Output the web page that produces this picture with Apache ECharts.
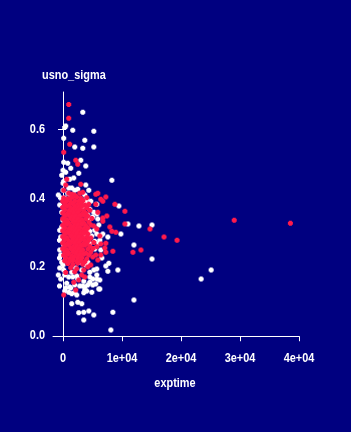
<!DOCTYPE html>
<html>
<head>
<meta charset="utf-8">
<script src="https://cdn.jsdelivr.net/npm/echarts@6/dist/echarts.min.js"></script>
<style>
  html, body { margin: 0; padding: 0; background: #000080; }
  #chart { width: 351px; height: 432px; }
</style>
</head>
<body>
<div id="chart"></div>
<script>
// exptime vs usno_sigma, two groups of stars
const whitePoints = [
  [3350, 0.650], [460, 0.610], [290, 0.606], [1650, 0.598], [5220, 0.595],
  [120, 0.575], [3690, 0.569], [1990, 0.549], [3350, 0.546], [5220, 0.549],
  [120, 0.505], [800, 0.502], [3010, 0.511], [3860, 0.494], [1310, 0.488],
  [0, 0.482], [2670, 0.473], [1820, 0.459], [1140, 0.456], [120, 0.450],
  [0, 0.444], [3860, 0.439], [970, 0.430], [1480, 0.430], [1990, 0.424],
  [2500, 0.427], [800, 0.415], [290, 0.401], [4030, 0.398], [3690, 0.410],
  [8280, 0.453], [9470, 0.378], [11000, 0.326], [12870, 0.320], [15080, 0.323],
  [6750, 0.297], [7600, 0.288], [9810, 0.297], [12020, 0.265], [15080, 0.224],
  [7770, 0.212], [7260, 0.204], [9300, 0.192], [7600, 0.189], [12020, 0.105],
  [8450, 0.070], [8110, 0.018], [25110, 0.192], [23410, 0.166], [6240, 0.163],
  [6240, 0.137], [3860, 0.386], [3350, 0.375], [4540, 0.369], [5220, 0.360],
  [4200, 0.352], [5730, 0.355], [4540, 0.340], [5050, 0.346], [5900, 0.340],
  [6070, 0.323], [5390, 0.308], [4540, 0.305], [3860, 0.294], [4880, 0.291],
  [5730, 0.297], [6410, 0.291], [6240, 0.279], [5390, 0.276], [4540, 0.270],
  [3690, 0.268], [0, 0.337], [-220, 0.317], [-600, 0.279], [-390, 0.288],
  [-800, 0.410], [-390, 0.401], [6070, 0.270], [6410, 0.250], [5390, 0.253],
  [6580, 0.227], [5730, 0.195], [5220, 0.192], [4540, 0.186], [5730, 0.178],
  [5050, 0.166], [4540, 0.157], [4200, 0.149], [3690, 0.143], [2840, 0.146],
  [1990, 0.149], [1310, 0.140], [630, 0.154], [-390, 0.166], [-600, 0.146],
  [-800, 0.178], [290, 0.178], [970, 0.172], [1650, 0.172], [2330, 0.175],
  [5560, 0.152], [460, 0.140], [1140, 0.143], [290, 0.131], [970, 0.128],
  [1990, 0.128], [1480, 0.123], [3350, 0.146], [3690, 0.134], [4030, 0.131],
  [3520, 0.126], [6070, 0.137], [4880, 0.128], [2330, 0.120], [1480, 0.094],
  [2500, 0.099], [3180, 0.094], [2670, 0.068], [3520, 0.070], [4370, 0.073],
  [5220, 0.062], [3520, 0.047], [2840, 0.215], [3860, 0.207], [2160, 0.198],
  [3180, 0.192], [4200, 0.215], [1480, 0.186], [2500, 0.166], [3520, 0.160],
  [4540, 0.172], [-220, 0.215], [-560, 0.198], [120, 0.192], [-600, 0.227],
  [-560, 0.250], [0, 0.207], [-560, 0.381], [-220, 0.360], [-560, 0.308],
  [120, 0.265], [-390, 0.236], [-220, 0.467], [460, 0.476], [0, 0.424],
  [1310, 0.407], [5730, 0.383], [4710, 0.392], [4370, 0.424], [5730, 0.166],
  [5050, 0.149]
];

const redPoints = [
  // scattered
  [970, 0.673], [970, 0.633], [1140, 0.557], [120, 0.534], [2160, 0.511],
  [2500, 0.499], [630, 0.456], [460, 0.439], [3010, 0.441], [120, 0.424],
  [5560, 0.412], [5900, 0.415], [7260, 0.404], [8790, 0.383], [10490, 0.363],
  [7430, 0.349], [6750, 0.343], [10490, 0.326], [7940, 0.317], [8280, 0.305],
  [8960, 0.302], [14740, 0.311], [17120, 0.288], [19330, 0.279], [29020, 0.337],
  [38540, 0.328], [6240, 0.291], [7260, 0.270], [6410, 0.268], [7090, 0.256],
  [7260, 0.244], [6410, 0.236], [13210, 0.250], [11850, 0.244], [8450, 0.247],
  [120, 0.120], [2160, 0.134], [6410, 0.398], [6750, 0.392], [5900, 0.360],
  [6750, 0.334], [5220, 0.320], [5730, 0.311], [4710, 0.285], [5560, 0.236],
  [5050, 0.230], [5900, 0.221], [4710, 0.207], [4200, 0.201], [3520, 0.192],
  [3180, 0.178], [3690, 0.172], [2670, 0.163], [1820, 0.157], [5560, 0.383],
  [970, 0.415], [1480, 0.412], [1990, 0.410], [2840, 0.415], [3350, 0.418],
  [2330, 0.404], [3010, 0.401], [1650, 0.404], [1310, 0.401],
  // dense core
  [120, 0.401], [800, 0.399], [4030, 0.402],
  [-50, 0.392], [630, 0.394], [1310, 0.390], [1990, 0.393], [2670, 0.391], [3350, 0.394],
  [290, 0.384], [970, 0.381], [1650, 0.385], [2330, 0.382], [3010, 0.384], [3690, 0.381], [4370, 0.383],
  [-50, 0.374], [630, 0.377], [1310, 0.373], [1990, 0.376], [2670, 0.374], [3180, 0.377], [4030, 0.373],
  [290, 0.367], [970, 0.364], [1650, 0.368], [2330, 0.365], [2840, 0.367], [3520, 0.364], [4540, 0.366],
  [-50, 0.358], [630, 0.355], [1310, 0.359], [1820, 0.356], [2500, 0.358], [3180, 0.355], [3860, 0.357],
  [290, 0.348], [970, 0.351], [1480, 0.347], [2160, 0.350], [2840, 0.348], [3520, 0.351], [4200, 0.349],
  [-50, 0.341], [630, 0.338], [1310, 0.342], [1820, 0.339], [2500, 0.341], [3180, 0.338], [3860, 0.340], [4880, 0.342],
  [290, 0.332], [970, 0.329], [1650, 0.333], [2160, 0.330], [2840, 0.332], [3520, 0.329], [4370, 0.331],
  [-50, 0.322], [630, 0.325], [1310, 0.321], [1990, 0.324], [2500, 0.322], [3180, 0.325], [3860, 0.321], [4710, 0.323],
  [290, 0.315], [970, 0.312], [1650, 0.316], [2330, 0.313], [2840, 0.315], [3520, 0.312], [4200, 0.314],
  [-50, 0.306], [630, 0.303], [1310, 0.307], [1990, 0.304], [2670, 0.306], [3180, 0.303], [3860, 0.305],
  [290, 0.296], [970, 0.299], [1650, 0.295], [2330, 0.298], [3010, 0.296], [3520, 0.299], [4200, 0.297],
  [-50, 0.289], [630, 0.286], [1310, 0.290], [1990, 0.287], [2670, 0.289], [3350, 0.286], [4030, 0.288],
  [290, 0.280], [970, 0.277], [1650, 0.281], [2330, 0.278], [3010, 0.280], [3690, 0.277], [4370, 0.279],
  [-50, 0.271], [630, 0.268], [1310, 0.272], [1990, 0.269], [2670, 0.271], [3350, 0.268], [4030, 0.270], [5220, 0.272],
  [290, 0.261], [970, 0.264], [1650, 0.260], [2330, 0.263], [3010, 0.261], [3690, 0.264], [4540, 0.262], [5730, 0.260],
  [-50, 0.254], [630, 0.251], [1310, 0.255], [1990, 0.252], [2670, 0.254], [3350, 0.251], [4200, 0.253], [5050, 0.255],
  [290, 0.245], [970, 0.242], [1650, 0.246], [2330, 0.243], [3010, 0.245], [3860, 0.242], [4710, 0.244],
  [120, 0.235], [800, 0.238], [1480, 0.234], [2160, 0.237], [2840, 0.235], [3520, 0.238], [4370, 0.236],
  [460, 0.228], [1140, 0.225], [1820, 0.229], [2500, 0.226], [3180, 0.228], [4030, 0.225],
  [290, 0.219], [970, 0.216], [1650, 0.220], [2330, 0.217], [3010, 0.219], [3690, 0.216],
  [800, 0.211], [1650, 0.208], [2500, 0.212], [3350, 0.209],
  [1310, 0.199], [2330, 0.196],
  [1990, 0.187], [460, 0.185]
];

const xTicks = [0, 10000, 20000, 30000, 40000];
const xTickLabels = ['0', '1e+04', '2e+04', '3e+04', '4e+04'];
const yTicks = [0, 0.2, 0.4, 0.6];
const yTickLabels = ['0.0', '0.2', '0.4', '0.6'];

// no narrow font installed, so squeeze Liberation Sans Bold sideways
const font = 'bold 13px "Liberation Sans", Arial, sans-serif';
const squeeze = 0.84;
const dot = 'path://M1 0H4V1H5V4H4V5H1V4H0V1H1Z';

const chart = echarts.init(document.getElementById('chart'));
chart.setOption({
  backgroundColor: '#000080',
  animation: false,
  grid: { left: 53, right: 52, top: 92, bottom: 93 },
  xAxis: {
    type: 'value',
    min: -1700,
    max: 40000,
    splitLine: { show: false },
    axisLine: { lineStyle: { color: '#fff', width: 1 } },
    axisTick: { length: 5, lineStyle: { color: '#fff' }, customValues: xTicks },
    axisLabel: { show: false }
  },
  yAxis: {
    type: 'value',
    min: -0.008,
    max: 0.709,
    splitLine: { show: false },
    axisLine: { show: true, lineStyle: { color: '#fff', width: 1 } },
    axisTick: { show: true, length: 5, lineStyle: { color: '#fff' }, customValues: yTicks },
    axisLabel: { show: false }
  },
  series: [
    {
      type: 'scatter',
      data: whitePoints,
      symbol: dot,
      symbolSize: 5,
      itemStyle: { color: '#ffffff', opacity: 1 },
      silent: true
    },
    {
      type: 'scatter',
      data: redPoints,
      symbol: dot,
      symbolSize: 5,
      itemStyle: { color: '#ff1a4b', opacity: 1 },
      silent: true
    }
  ]
});

function label(text, x, y, align) {
  return {
    type: 'text',
    x: x,
    y: y,
    scaleX: squeeze,
    silent: true,
    style: { text: text, font: font, fill: '#fff', align: align, verticalAlign: 'middle' }
  };
}

const texts = [];
xTicks.forEach((v, i) => {
  const px = chart.convertToPixel({ xAxisIndex: 0 }, v);
  texts.push(label(xTickLabels[i], px, 358, 'center'));
});
yTicks.forEach((v, i) => {
  const py = chart.convertToPixel({ yAxisIndex: 0 }, v);
  texts.push(label(yTickLabels[i], 45, py - 0.5, 'right'));
});
texts.push(label('exptime', 175, 383, 'center'));
texts.push(label('usno_sigma', 42, 75, 'left'));

chart.setOption({ graphic: { elements: texts } });
</script>
</body>
</html>
